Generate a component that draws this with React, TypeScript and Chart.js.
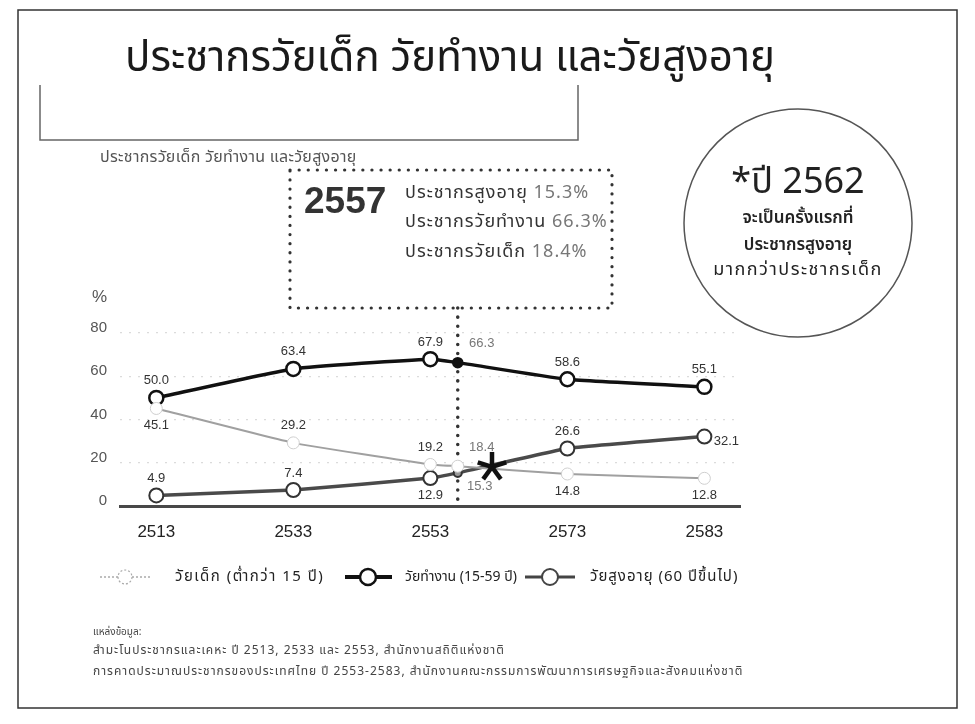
import React, { useEffect, useRef } from 'react';
import { Chart, registerables } from 'chart.js';

Chart.register(...registerables);

// ---- data ----
const yearLabels = ['2513', '2533', '2553', '2573', '2583'];
const pointYears = ['2513', '2533', '2553', '2557', '2573', '2583'];
const pointSlots = [0, 1, 2, 2.2, 3, 4]; // 2557 sits 4/20 of the way from 2553 to 2573
const childValues = [45.1, 29.2, 19.2, 18.4, 14.8, 12.8];
const workingValues = [50.0, 63.4, 67.9, 66.3, 58.6, 55.1];
const elderlyValues = [4.9, 7.4, 12.9, 15.3, 26.6, 32.1];
const yTickValues = [0, 20, 40, 60, 80];
const highlightYear = '2557';
const highlightIndex = pointYears.indexOf(highlightYear);
const crossoverYear = '2562';
const crossoverSlot = 2.45; // 2562 sits 9/20 of the way from 2553 to 2573

// label placement per point (style, not data)
const childSide = ['below', 'above', 'above', 'rightAbove', 'below', 'below'];
const workingSide = ['above', 'above', 'above', 'rightAbove', 'above', 'above'];
const elderlySide = ['above', 'above', 'below', 'rightBelow', 'above', 'right'];

const THAI = '"Noto Sans Thai", "Noto Sans Thai UI", "Noto Sans", "DejaVu Sans", sans-serif';
const NUM = '"Liberation Sans", "DejaVu Sans", sans-serif';

const offsets: Record<string, [number, number]> = {
  above: [0, -17],
  below: [0, 17],
  rightAbove: [24, -19],
  rightBelow: [22, 14],
  right: [22, 5],
};

const toXY = (vals: number[]) => vals.map((v, i) => ({ x: pointSlots[i], y: v }));

const T = ({ x, y, size, children, align = 'left', color = '#222', weight = 400, family = THAI, style = {} }: any) => (
  <div
    style={{
      position: 'absolute',
      left: x,
      top: y,
      transform: `translate(${align === 'center' ? '-50%' : '0'}, -50%)`,
      fontSize: size,
      lineHeight: 1.3,
      color,
      fontWeight: weight,
      fontFamily: family,
      whiteSpace: 'nowrap',
      ...style,
    }}
  >
    {children}
  </div>
);

export default function App() {
  const canvasRef = useRef<HTMLCanvasElement | null>(null);

  useEffect(() => {
    const canvas = canvasRef.current;
    if (!canvas) return;
    const sides = [childSide, workingSide, elderlySide];

    const interp = (vals: number[], slot: number) => {
      for (let i = 0; i < pointSlots.length - 1; i++) {
        if (slot >= pointSlots[i] && slot <= pointSlots[i + 1]) {
          const t = (slot - pointSlots[i]) / (pointSlots[i + 1] - pointSlots[i]);
          return vals[i] + t * (vals[i + 1] - vals[i]);
        }
      }
      return vals[vals.length - 1];
    };

    const decor = {
      id: 'decor',
      beforeDatasetsDraw(chart: any) {
        const { ctx, chartArea, scales } = chart;
        const x = scales.x.getPixelForValue(pointSlots[highlightIndex]);
        ctx.save();
        ctx.strokeStyle = '#333';
        ctx.lineWidth = 3.5;
        ctx.lineCap = 'round';
        ctx.setLineDash([0.1, 9]);
        ctx.beginPath();
        ctx.moveTo(x, chartArea.top - 25);
        ctx.lineTo(x, chartArea.bottom);
        ctx.stroke();
        ctx.restore();
      },
      afterDatasetsDraw(chart: any) {
        const { ctx, scales } = chart;
        ctx.save();
        ctx.textAlign = 'center';
        ctx.textBaseline = 'middle';
        chart.data.datasets.forEach((ds: any, di: number) => {
          const meta = chart.getDatasetMeta(di);
          meta.data.forEach((pt: any, i: number) => {
            const [dx, dy] = offsets[sides[di][i]];
            ctx.font = `13px ${NUM}`;
            ctx.fillStyle = i === highlightIndex ? '#777' : '#333';
            ctx.fillText(ds.data[i].y.toFixed(1), pt.x + dx, pt.y + dy);
          });
        });
        // star at the crossover year (2562)
        const yv = (interp(childValues, crossoverSlot) + interp(elderlyValues, crossoverSlot)) / 2;
        const cx = scales.x.getPixelForValue(crossoverSlot);
        const cy = scales.y.getPixelForValue(yv);
        ctx.strokeStyle = '#111';
        ctx.lineWidth = 4.5;
        ctx.lineCap = 'butt';
        for (let k = 0; k < 5; k++) {
          const a = (-90 + k * 72) * Math.PI / 180;
          ctx.beginPath();
          ctx.moveTo(cx, cy);
          ctx.lineTo(cx + Math.cos(a) * 15, cy + Math.sin(a) * 15);
          ctx.stroke();
        }
        ctx.restore();
      },
    };

    const chart = new Chart(canvas, {
      type: 'line',
      data: {
        datasets: [
          {
            label: 'วัยเด็ก (ต่ำกว่า 15 ปี)',
            data: toXY(childValues),
            borderColor: '#a0a0a0',
            borderWidth: 2,
            pointRadius: 6,
            pointBackgroundColor: '#fff',
            pointBorderColor: '#cfcfcf',
            pointBorderWidth: 1,
            tension: 0.1,
          },
          {
            label: 'วัยทำงาน (15-59 ปี)',
            data: toXY(workingValues),
            borderColor: '#111',
            borderWidth: 3.5,
            pointRadius: pointYears.map((_, i) => (i === highlightIndex ? 4.5 : 7)),
            pointBackgroundColor: pointYears.map((_, i) => (i === highlightIndex ? '#111' : '#fff')),
            pointBorderColor: '#111',
            pointBorderWidth: 2.5,
            tension: 0.15,
          },
          {
            label: 'วัยสูงอายุ (60 ปีขึ้นไป)',
            data: toXY(elderlyValues),
            borderColor: '#4a4a4a',
            borderWidth: 3.5,
            pointRadius: pointYears.map((_, i) => (i === highlightIndex ? 4 : 7)),
            pointBackgroundColor: pointYears.map((_, i) => (i === highlightIndex ? '#999' : '#fff')),
            pointBorderColor: '#333',
            pointBorderWidth: 2,
            tension: 0.1,
          },
        ],
      },
      options: {
        responsive: false,
        animation: false,
        events: [],
        layout: { padding: { left: 80, top: 333, right: 235, bottom: 178 } },
        plugins: { legend: { display: false }, tooltip: { enabled: false } },
        scales: {
          x: {
            type: 'linear',
            min: -0.265,
            max: 4.26,
            afterFit: (s: any) => { s.height = 40; },
            afterBuildTicks: (s: any) => { s.ticks = yearLabels.map((_, i) => ({ value: i })); },
            ticks: {
              callback: (v: any) => yearLabels[v] ?? '',
              font: { size: 17, family: NUM },
              color: '#222',
              padding: 16,
              autoSkip: false,
              maxRotation: 0,
            },
            grid: { display: false, drawTicks: false },
            border: { display: true, color: '#484848', width: 3 },
          },
          y: {
            min: 0,
            max: 80,
            afterFit: (s: any) => { s.width = 40; },
            afterBuildTicks: (s: any) => { s.ticks = yTickValues.map((v) => ({ value: v })); },
            ticks: {
              font: { size: 15, family: NUM },
              color: '#555',
              padding: 13,
              labelOffset: -5,
            },
            grid: {
              drawTicks: false,
              color: (c: any) => (c.tick && c.tick.value === 0 ? 'rgba(0,0,0,0)' : 'rgba(0,0,0,0.14)'),
              lineWidth: 1.2,
            },
            border: { display: false, dash: [2, 7] },
          },
        },
      },
      plugins: [decor],
    } as any);

    return () => chart.destroy();
  }, []);

  return (
    <div style={{ position: 'absolute', left: 0, top: 0, width: 975, height: 724, background: '#fff', overflow: 'hidden' }}>
      <canvas ref={canvasRef} width={975} height={724} style={{ position: 'absolute', left: 0, top: 0, width: 975, height: 724 }} />
      <svg width={975} height={724} style={{ position: 'absolute', left: 0, top: 0 }}>
        {/* outer frame */}
        <rect x={18} y={10} width={939} height={698} fill="none" stroke="#333" strokeWidth={1.5} />
        {/* open box under title */}
        <polyline points="40,85 40,140 578,140 578,85" fill="none" stroke="#666" strokeWidth={1.5} />
        {/* circle */}
        <circle cx={798} cy={223} r={114} fill="none" stroke="#555" strokeWidth={1.5} />
        {/* dotted callout box */}
        <rect x={290} y={170} width={322} height={138} fill="none" stroke="#333" strokeWidth={3.2} strokeDasharray="0.1 9" strokeLinecap="round" />
        {/* legend icons */}
        <line x1={100} y1={577} x2={150} y2={577} stroke="#aaa" strokeWidth={1.5} strokeDasharray="2 2" />
        <circle cx={125} cy={577} r={7} fill="#fff" stroke="#aaa" strokeWidth={1.2} strokeDasharray="2 2" />
        <line x1={345} y1={577} x2={392} y2={577} stroke="#111" strokeWidth={4} />
        <circle cx={368} cy={577} r={8} fill="#fff" stroke="#111" strokeWidth={2.5} />
        <line x1={525} y1={577} x2={575} y2={577} stroke="#444" strokeWidth={3} />
        <circle cx={550} cy={577} r={8} fill="#fff" stroke="#444" strokeWidth={2} />
      </svg>

      <T x={450} y={58} size={42} align="center" color="#1a1a1a">ประชากรวัยเด็ก วัยทำงาน และวัยสูงอายุ</T>
      <T x={100} y={157} size={16} color="#555" style={{ letterSpacing: 0.3 }}>ประชากรวัยเด็ก วัยทำงาน และวัยสูงอายุ</T>

      <T x={798} y={182} size={36} align="center" color="#222">*ปี {crossoverYear}</T>
      <T x={798} y={218} size={17} align="center" color="#222" weight={600}>จะเป็นครั้งแรกที่</T>
      <T x={798} y={245} size={17} align="center" color="#222" weight={600}>ประชากรสูงอายุ</T>
      <T x={798} y={270} size={18} align="center" color="#222" style={{ letterSpacing: 1.5 }}>มากกว่าประชากรเด็ก</T>

      <T x={304} y={201} size={37} color="#333" weight={700} family={NUM}>{highlightYear}</T>
      <T x={405} y={193} size={18} color="#333" style={{ letterSpacing: 1 }}>ประชากรสูงอายุ <span style={{ color: '#777' }}>{elderlyValues[highlightIndex]}%</span></T>
      <T x={405} y={222} size={18} color="#333" style={{ letterSpacing: 1 }}>ประชากรวัยทำงาน <span style={{ color: '#777' }}>{workingValues[highlightIndex]}%</span></T>
      <T x={405} y={252} size={18} color="#333" style={{ letterSpacing: 1 }}>ประชากรวัยเด็ก <span style={{ color: '#777' }}>{childValues[highlightIndex]}%</span></T>

      <T x={92} y={297} size={17} color="#555" family={NUM}>%</T>

      <T x={175} y={577} size={15} color="#222" style={{ letterSpacing: 1.5 }}>วัยเด็ก (ต่ำกว่า 15 ปี)</T>
      <T x={405} y={577} size={14} color="#222">วัยทำงาน (15-59 ปี)</T>
      <T x={590} y={577} size={15} color="#222" style={{ letterSpacing: 1 }}>วัยสูงอายุ (60 ปีขึ้นไป)</T>

      <T x={93} y={632} size={10} color="#444">แหล่งข้อมูล:</T>
      <T x={93} y={651} size={12} color="#444" style={{ letterSpacing: 1 }}>สำมะโนประชากรและเคหะ ปี 2513, 2533 และ 2553, สำนักงานสถิติแห่งชาติ</T>
      <T x={93} y={672} size={12} color="#444" style={{ letterSpacing: 1 }}>การคาดประมาณประชากรของประเทศไทย ปี 2553-2583, สำนักงานคณะกรรมการพัฒนาการเศรษฐกิจและสังคมแห่งชาติ</T>
    </div>
  );
}
